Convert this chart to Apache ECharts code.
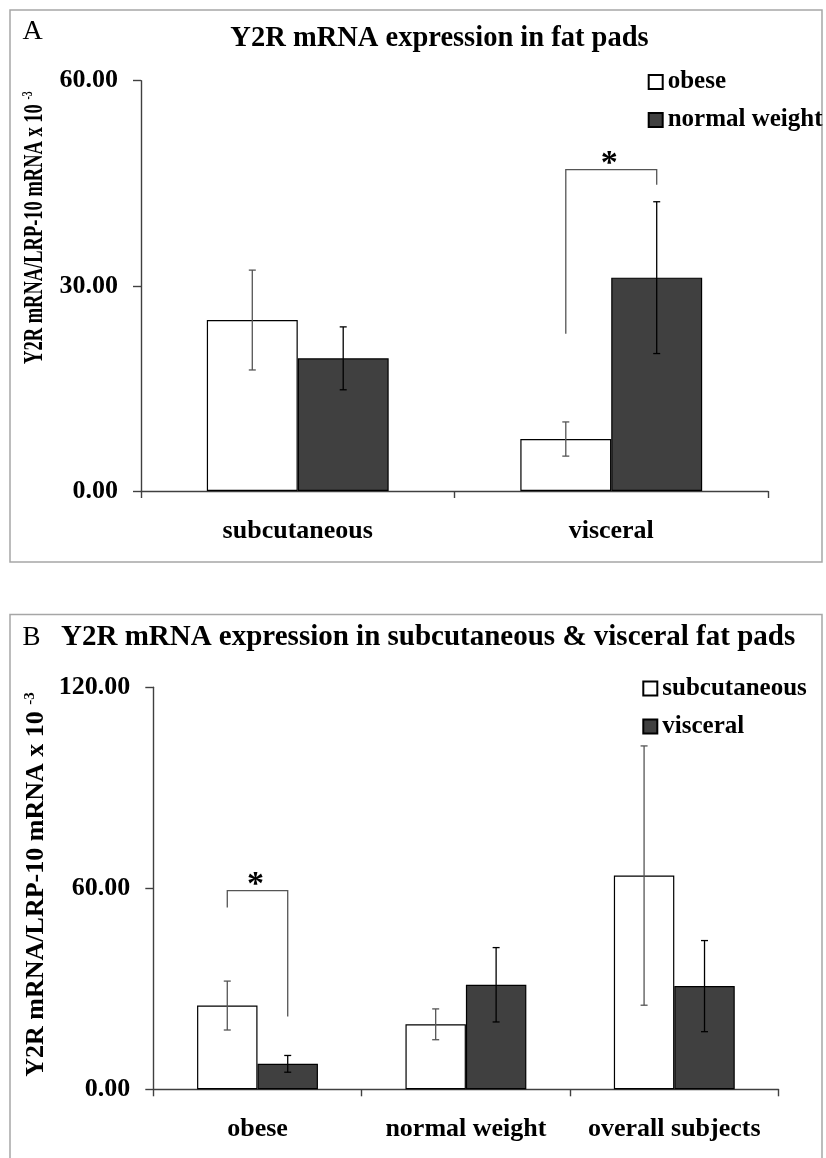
<!DOCTYPE html>
<html>
<head>
<meta charset="utf-8">
<script src="https://cdn.jsdelivr.net/npm/echarts@6/dist/echarts.min.js"></script>
<style>
  html, body { margin: 0; padding: 0; background: #fff; }
  #main { width: 826px; height: 1158px; }
</style>
</head>
<body>
<div id="main"></div>
<script>
// panel A: Y2R mRNA in fat pads, by depot
const catsA = ['subcutaneous', 'visceral']
const obeseA = [25.0, 7.6]
const obeseErrA = [7.3, 2.5]
const normalA = [19.4, 31.2]
const normalErrA = [4.6, 11.1]
const yTicksA = [0, 30, 60]
// [category, bracket top, left leg end, right leg end]
const sigA = [[1, 47.0, 23.0, 44.8]]

// panel B: by group
const catsB = ['obese', 'normal weight', 'overall subjects']
const subcutB = [25.0, 19.4, 63.8]
const subcutErrB = [7.3, 4.6, 38.7]
const visceralB = [7.6, 31.2, 30.8]
const visceralErrB = [2.5, 11.1, 13.6]
const yTicksB = [0, 60, 120]
const sigB = [[0, 59.3, 54.3, 21.7]]

const SERIF = '"Liberation Serif", "Times New Roman", serif'
const GAP = 0.42
const AXIS_COLOR = '#404040'

const myChart = echarts.init(document.getElementById('main'))

// error bars drawn on top of the grouped bars
const errorBarItem = (side, color) => (params, api) => {
  const i = api.value(0)
  const v = api.value(1)
  const e = api.value(2)
  const band = api.size([1, 0])[0]
  const bw = band * (1 - GAP) / 2
  const hi = api.coord([i, v + e])
  const lo = api.coord([i, v - e])
  const x = hi[0] + side * bw / 2
  const cap = 3.5
  const st = { stroke: color, lineWidth: 1.3 }
  return {
    type: 'group',
    children: [
      { type: 'line', shape: { x1: x, y1: hi[1], x2: x, y2: lo[1] }, style: st },
      { type: 'line', shape: { x1: x - cap, y1: hi[1], x2: x + cap, y2: hi[1] }, style: st },
      { type: 'line', shape: { x1: x - cap, y1: lo[1], x2: x + cap, y2: lo[1] }, style: st },
    ],
  }
}

// significance bracket with asterisk
const bracketItem = (params, api) => {
  const i = api.value(0)
  const band = api.size([1, 0])[0]
  const bw = band * (1 - GAP) / 2
  const top = api.coord([i, api.value(1)])
  const l = api.coord([i, api.value(2)])
  const r = api.coord([i, api.value(3)])
  const xL = top[0] - bw / 2
  const xR = top[0] + bw / 2
  return {
    type: 'group',
    children: [
      {
        type: 'polyline',
        shape: { points: [[xL, l[1]], [xL, top[1]], [xR, top[1]], [xR, r[1]]] },
        style: { stroke: '#555', lineWidth: 1.3, fill: null },
      },
      {
        type: 'text',
        x: (xL + xR) / 2 - 2,
        y: top[1] - 5,
        style: { text: '*', fontSize: 34, fontWeight: 'bold', fontFamily: SERIF, fill: '#000', align: 'center', verticalAlign: 'middle' },
      },
    ],
  }
}

const catAxis = (cats, gridIndex) => ({
  type: 'category',
  gridIndex,
  data: cats,
  axisLine: { show: true, lineStyle: { color: AXIS_COLOR, width: 1.4 } },
  axisTick: { show: true, length: 7, alignWithLabel: false, lineStyle: { color: AXIS_COLOR, width: 1.4 } },
  axisLabel: { interval: 0, margin: 27, fontSize: 26, fontWeight: 'bold', fontFamily: SERIF, color: '#000' },
  splitLine: { show: false },
})

const valAxis = (ticks, gridIndex) => ({
  type: 'value',
  gridIndex,
  min: ticks[0],
  max: ticks[ticks.length - 1],
  interval: ticks[1] - ticks[0],
  axisLine: { show: true, lineStyle: { color: AXIS_COLOR, width: 1.4 } },
  axisTick: { show: true, length: 8, lineStyle: { color: AXIS_COLOR, width: 1.4 } },
  axisLabel: { margin: 23, fontSize: 26, fontWeight: 'bold', fontFamily: SERIF, color: '#000', formatter: v => v.toFixed(2) },
  splitLine: { show: false },
})

const barSeries = (name, data, fill, idx) => ({
  name,
  type: 'bar',
  xAxisIndex: idx,
  yAxisIndex: idx,
  data,
  barGap: '0%',
  barCategoryGap: (GAP * 100) + '%',
  itemStyle: { color: fill, borderColor: '#000', borderWidth: 1.2 },
  z: 2,
})

const errSeries = (vals, errs, side, color, idx) => ({
  type: 'custom',
  xAxisIndex: idx,
  yAxisIndex: idx,
  renderItem: errorBarItem(side, color),
  encode: { x: 0, y: 1 },
  data: vals.map((v, i) => [i, v, errs[i]]),
  z: 3,
  silent: true,
})

const sigSeries = (rows, idx) => ({
  type: 'custom',
  xAxisIndex: idx,
  yAxisIndex: idx,
  renderItem: bracketItem,
  encode: { x: 0, y: 1 },
  data: rows,
  z: 3,
  silent: true,
})

const legendCfg = (names, left, top) => ({
  data: names,
  orient: 'vertical',
  left,
  top,
  icon: 'rect',
  itemWidth: 14,
  itemHeight: 14,
  itemGap: 13,
  selectedMode: false,
  textStyle: { fontSize: 25, fontWeight: 'bold', fontFamily: SERIF, color: '#000' },
})

const yTitle = (x, y, size, sx) => ({
  type: 'text',
  x,
  y,
  rotation: Math.PI / 2,
  scaleX: sx,
  style: {
    text: '{m|Y2R mRNA/LRP-10 mRNA x 10 }{s|-3}',
    align: 'center',
    verticalAlign: 'middle',
    fill: '#000',
    rich: {
      m: { fontSize: size, fontWeight: 'bold', fontFamily: SERIF, fill: '#000' },
      s: { fontSize: 15, fontWeight: 'bold', fontFamily: SERIF, fill: '#000', verticalAlign: 'top' },
    },
  },
})

myChart.setOption({
  animation: false,
  backgroundColor: '#fff',
  grid: [
    { left: 141, top: 80.7, width: 627, height: 410.3, outerBoundsMode: 'none' },
    { left: 153.3, top: 687.3, width: 625.2, height: 402, outerBoundsMode: 'none' },
  ],
  xAxis: [catAxis(catsA, 0), catAxis(catsB, 1)],
  yAxis: [valAxis(yTicksA, 0), valAxis(yTicksB, 1)],
  legend: [
    legendCfg(['obese', 'normal weight'], 642.7, 64.5),
    legendCfg(['subcutaneous', 'visceral'], 637.3, 671),
  ],
  graphic: [
    { type: 'rect', shape: { x: 10, y: 10, width: 812, height: 552 }, style: { fill: null, stroke: '#a6a6a6', lineWidth: 1.5 }, silent: true },
    { type: 'polyline', shape: { points: [[10, 1158], [10, 614.5], [822, 614.5], [822, 1158]] }, style: { fill: null, stroke: '#a6a6a6', lineWidth: 1.5 }, silent: true },
    { type: 'text', x: 22.5, y: 31.5, style: { text: 'A', fontSize: 28, fontFamily: SERIF, fill: '#000', align: 'left', verticalAlign: 'middle' } },
    { type: 'text', x: 439.5, y: 38.5, style: { text: 'Y2R mRNA expression in fat pads', fontSize: 28.5, fontWeight: 'bold', fontFamily: SERIF, fill: '#000', align: 'center', verticalAlign: 'middle' } },
    { type: 'text', x: 22.5, y: 637.5, style: { text: 'B', fontSize: 27, fontFamily: SERIF, fill: '#000', align: 'left', verticalAlign: 'middle' } },
    { type: 'text', x: 61, y: 638, style: { text: 'Y2R mRNA expression in subcutaneous & visceral fat pads', fontSize: 29, fontWeight: 'bold', fontFamily: SERIF, fill: '#000', align: 'left', verticalAlign: 'middle' } },
    yTitle(35, 227.6, 28, 0.66),
    yTitle(36, 884.5, 26, 1),
  ],
  series: [
    barSeries('obese', obeseA, '#fff', 0),
    barSeries('normal weight', normalA, '#404040', 0),
    errSeries(obeseA, obeseErrA, -1, '#555', 0),
    errSeries(normalA, normalErrA, 1, '#000', 0),
    sigSeries(sigA, 0),
    barSeries('subcutaneous', subcutB, '#fff', 1),
    barSeries('visceral', visceralB, '#404040', 1),
    errSeries(subcutB, subcutErrB, -1, '#555', 1),
    errSeries(visceralB, visceralErrB, 1, '#000', 1),
    sigSeries(sigB, 1),
  ],
})
</script>
</body>
</html>
